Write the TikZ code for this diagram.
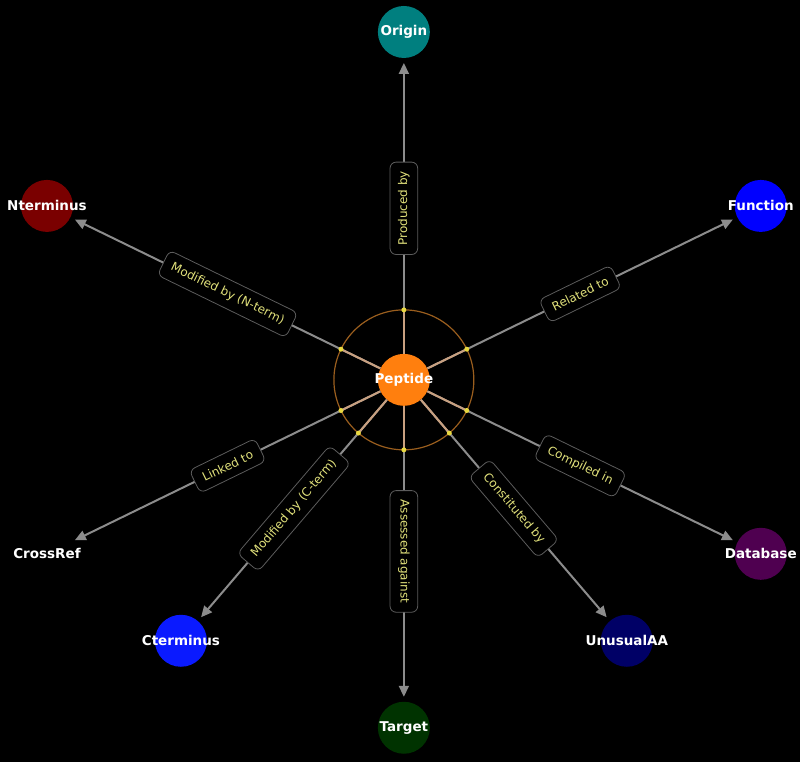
\documentclass[tikz,border=0pt]{standalone}
\usepackage{fontspec}
\setmainfont{DejaVu Sans}
\usepackage{xcolor}
\usetikzlibrary{arrows.meta,calc}

\definecolor{pepcol}{HTML}{FF7F0E}
\definecolor{oricol}{HTML}{007F7F}
\definecolor{ntcol}{HTML}{7A0000}
\definecolor{fncol}{HTML}{0000FF}
\definecolor{dbcol}{HTML}{4F0050}
\definecolor{ctcol}{HTML}{0A1AFF}
\definecolor{uacol}{HTML}{000066}
\definecolor{tgcol}{HTML}{003300}
\definecolor{edgecol}{HTML}{8C8C8C}
\definecolor{innercol}{HTML}{C8A080}
\definecolor{ringcol}{HTML}{9A5E1E}
\definecolor{dotcol}{HTML}{E8D840}
\definecolor{relframe}{HTML}{5C5C5C}
\definecolor{reltext}{HTML}{E0E07A}

\begin{document}
\begin{tikzpicture}[x=1pt,y=1pt,
  hub/.style={circle,fill=pepcol,minimum size=52pt,inner sep=0pt},
  leaf/.style={circle,minimum size=52pt,inner sep=0pt,outer sep=5pt},
  nametext/.style={text=white,font=\bfseries\fontsize{13.5}{16}\selectfont},
  rel/.style={draw=relframe,line width=0.8pt,fill=black,rounded corners=6pt,
              text=reltext,font=\fontsize{12}{14}\selectfont,
              inner xsep=9pt,inner ysep=8pt,sloped,midway},
  link/.style={draw=edgecol,line width=2pt,-{Triangle[length=11pt,width=10pt]}},
  core/.style={draw=innercol,line width=2pt}
]
\fill[black] (0,0) rectangle (800,762);

% centre and its ring
\node[hub,label={[nametext]center:Peptide}] (pep) at (404,382) {};
\draw[ringcol,line width=1.2pt] (pep.center) circle[radius=70];

% outer nodes
\node[leaf,fill=oricol,label={[nametext]center:Origin}] (ori) at (404,730) {};
\node[leaf,fill=ntcol,label={[nametext]center:Nterminus}] (nterm) at (47,556) {};
\node[leaf,fill=fncol,label={[nametext]center:Function}] (func) at (761,556) {};
\node[leaf,fill=black,label={[nametext]center:CrossRef}] (xref) at (47,208) {};
\node[leaf,fill=dbcol,label={[nametext]center:Database}] (db) at (761,208) {};
\node[leaf,fill=ctcol,label={[nametext]center:Cterminus}] (cterm) at (181,121) {};
\node[leaf,fill=uacol,label={[nametext]center:UnusualAA}] (uaa) at (627,121) {};
\node[leaf,fill=tgcol,label={[nametext]center:Target}] (tgt) at (404,34) {};

% relations
\draw[link] (pep) -- node[rel] {Produced by} (ori);
\draw[link] (pep) -- node[rel] {Modified by (N-term)} (nterm);
\draw[link] (pep) -- node[rel] {Related to} (func);
\draw[link] (pep) -- node[rel] {Linked to} (xref);
\draw[link] (pep) -- node[rel] {Compiled in} (db);
\draw[link] (pep) -- node[rel] {Modified by (C-term)} (cterm);
\draw[link] (pep) -- node[rel] {Constituted by} (uaa);
\draw[link] (pep) -- node[rel] {Assessed against} (tgt);

% tinted part inside the ring
\begin{scope}
\clip (pep.center) circle[radius=70];
\draw[core] (pep) -- (ori);
\draw[core] (pep) -- (nterm);
\draw[core] (pep) -- (func);
\draw[core] (pep) -- (xref);
\draw[core] (pep) -- (db);
\draw[core] (pep) -- (cterm);
\draw[core] (pep) -- (uaa);
\draw[core] (pep) -- (tgt);
\end{scope}

% crossing marks
\fill[dotcol] ($(pep.center)!70pt!(ori)$) circle[radius=2.5];
\fill[dotcol] ($(pep.center)!70pt!(nterm)$) circle[radius=2.5];
\fill[dotcol] ($(pep.center)!70pt!(func)$) circle[radius=2.5];
\fill[dotcol] ($(pep.center)!70pt!(xref)$) circle[radius=2.5];
\fill[dotcol] ($(pep.center)!70pt!(db)$) circle[radius=2.5];
\fill[dotcol] ($(pep.center)!70pt!(cterm)$) circle[radius=2.5];
\fill[dotcol] ($(pep.center)!70pt!(uaa)$) circle[radius=2.5];
\fill[dotcol] ($(pep.center)!70pt!(tgt)$) circle[radius=2.5];
\end{tikzpicture}
\end{document}
